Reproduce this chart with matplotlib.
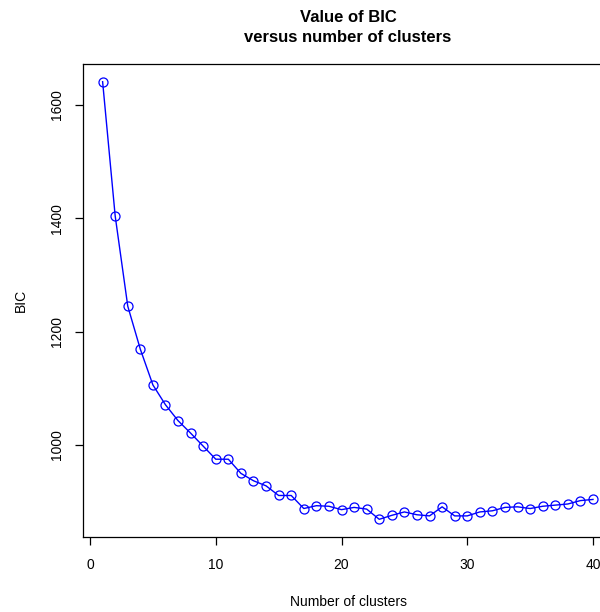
import matplotlib
matplotlib.use("Agg")
import matplotlib.pyplot as plt

plt.rcParams['font.family'] = ['Liberation Sans', 'DejaVu Sans']

# number of clusters and BIC values
clusters = list(range(1, 41))
bic = [1641, 1404, 1245, 1169, 1106, 1071, 1043, 1021, 998, 975,
       975, 950, 937, 928, 911, 911, 888, 893, 892, 886,
       890, 887, 869, 876, 882, 877, 875, 891, 875, 875,
       882, 884, 890, 891, 888, 892, 894, 896, 902, 904]

fig = plt.figure(figsize=(6, 6.12), dpi=100)
# plot region runs past the right edge, like the original
ax = fig.add_axes([83 / 600, 75.2 / 612, 529.6 / 600, 472.6 / 612])

ax.plot(clusters, bic, color='blue', lw=1, marker='o', ms=6.5,
        mfc='none', mec='blue', mew=0.9)

span = max(bic) - min(bic)
ax.set_xlim(1 - 0.04 * 39, 40 + 0.04 * 39)
ax.set_ylim(min(bic) - 0.04 * span, max(bic) + 0.04 * span)

ax.set_xticks([0, 10, 20, 30, 40])
ax.set_yticks([1000, 1200, 1400, 1600])
ax.tick_params(direction='out', length=5.5, width=0.9, labelsize=10)
ax.tick_params(axis='x', pad=10)
ax.tick_params(axis='y', pad=8)
plt.setp(ax.get_yticklabels(), rotation=90, va='center')
for s in ax.spines.values():
    s.set_linewidth(0.9)

ax.set_xlabel("Number of clusters", fontsize=10, va='center')
ax.set_ylabel("BIC", fontsize=10, va='center')
ax.yaxis.set_label_coords(-(83 - 21) / 529.6, 0.5)
ax.xaxis.set_label_coords((348 - 83) / 529.6, -(602 - 536.8) / 472.6)

fig.text(348 / 600, 1 - 27.5 / 612, "Value of BIC\nversus number of clusters",
         ha='center', va='center', fontsize=12, fontweight='bold',
         linespacing=1.45)

fig.savefig("out.png", dpi=100)
